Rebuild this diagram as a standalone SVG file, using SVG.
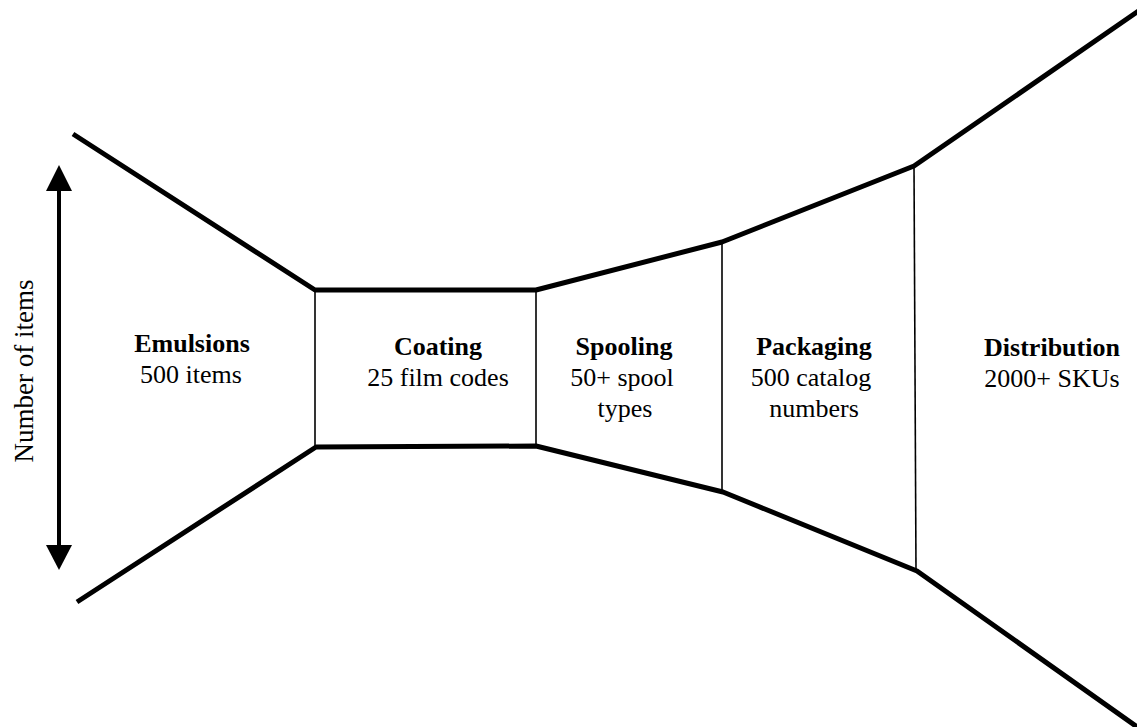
<svg xmlns="http://www.w3.org/2000/svg" width="1137" height="727" viewBox="0 0 1137 727">
<style>
.thick{fill:none;stroke:#000;stroke-width:5;stroke-linejoin:round}
.thin{fill:none;stroke:#000;stroke-width:1.6}
.t{font-family:"Liberation Serif","Times New Roman",serif;font-size:26px;fill:#000;text-anchor:middle}
.b{font-weight:bold}
</style>
<rect width="1137" height="727" fill="#fff"/>
<g id="connectors">
<polyline class="thick" points="73,134 315,290 536,290 722,242 914,166 1140,10"/>
<polyline class="thick" points="77,602 316,447 536,446 723,492 917,571 1140,729"/>
<line class="thin" x1="315" y1="290" x2="315" y2="447"/>
<line class="thin" x1="536" y1="290" x2="536" y2="446"/>
<line class="thin" x1="722" y1="242" x2="722" y2="492"/>
<line class="thin" x1="914" y1="166" x2="916" y2="571"/>
</g>
<g id="axis">
<line x1="59" y1="188" x2="59" y2="548" stroke="#000" stroke-width="4"/>
<polygon points="59,165 46,191 72,191" fill="#000"/>
<polygon points="59,570 46,545 72,545" fill="#000"/>
<text class="t" font-size="27" style="font-size:27px" transform="translate(33,371) rotate(-90)">Number of items</text>
</g>
<g id="emulsions">
<text class="t b" x="192" y="352">Emulsions</text>
<text class="t" x="191" y="383">500 items</text>
</g>
<g id="coating">
<text class="t b" x="438" y="355">Coating</text>
<text class="t" x="438" y="386">25 film codes</text>
</g>
<g id="spooling">
<text class="t b" x="624" y="355">Spooling</text>
<text class="t" x="622" y="386">50+ spool</text>
<text class="t" x="625" y="417">types</text>
</g>
<g id="packaging">
<text class="t b" x="814" y="355">Packaging</text>
<text class="t" x="811" y="386">500 catalog</text>
<text class="t" x="814" y="417">numbers</text>
</g>
<g id="distribution">
<text class="t b" x="1052" y="356">Distribution</text>
<text class="t" x="1052" y="387">2000+ SKUs</text>
</g>
</svg>
